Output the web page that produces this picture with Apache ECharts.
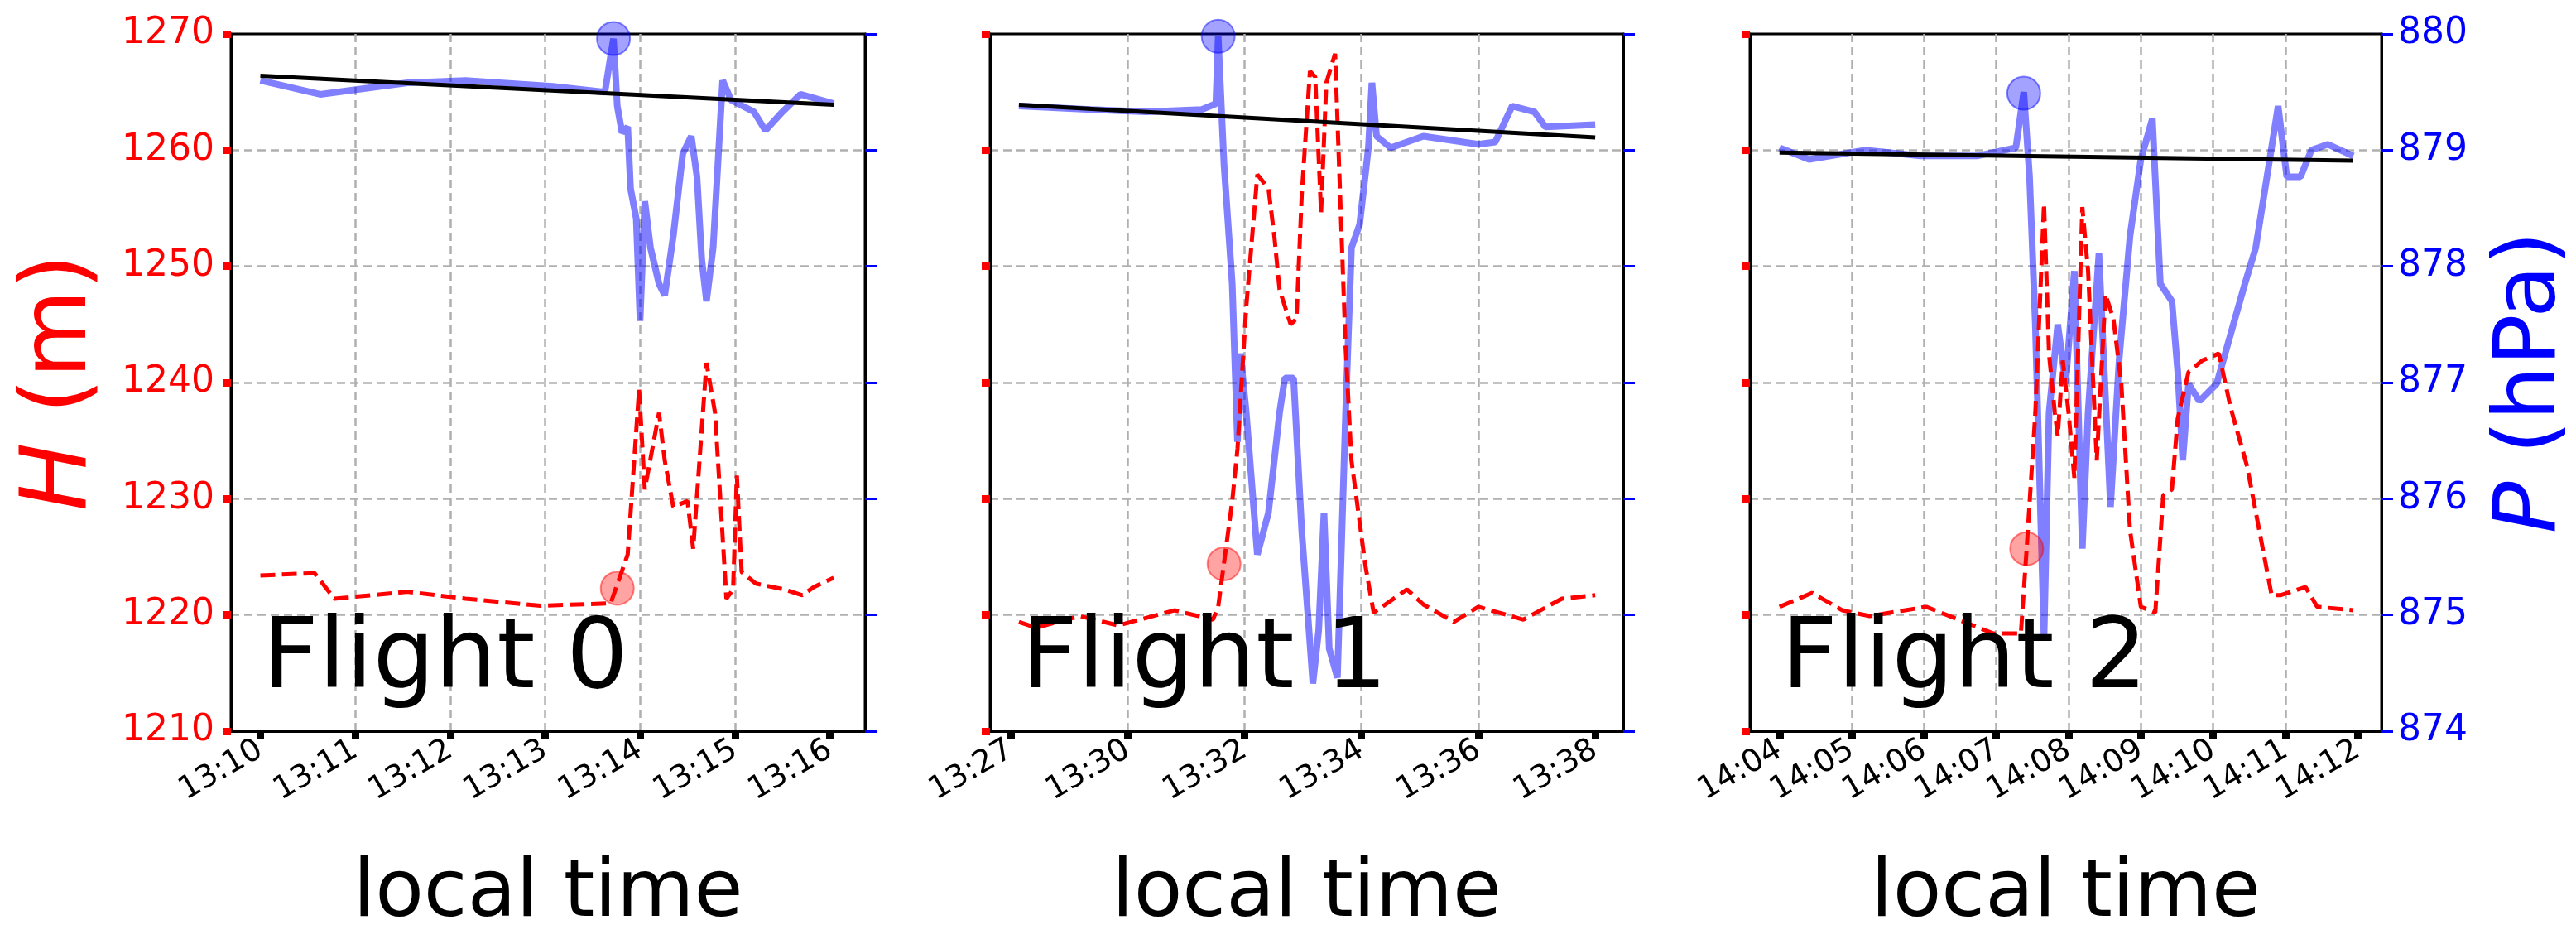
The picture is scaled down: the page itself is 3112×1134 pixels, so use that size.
<!DOCTYPE html>
<html><head><meta charset="utf-8">
<script src="https://cdn.jsdelivr.net/npm/echarts@6/dist/echarts.min.js"></script>
<style>html,body{margin:0;padding:0;background:#fff}#c{width:3112px;height:1134px}</style>
</head><body><div id="c"></div>
<script>
// Flight 0 (minutes after 13:00)
const f0HT=[10.0,10.57,10.78,11.55,12.16,12.95,13.69,13.75,13.87,13.99,14.05,14.20,14.26,14.35,14.50,14.56,14.70,14.79,14.91,14.98,15.02,15.07,15.22,15.52,15.71,15.83,16.04];
const f0HV=[1223.4,1223.6,1221.4,1222.0,1221.4,1220.8,1221.0,1222.4,1225.2,1239.4,1230.8,1237.4,1233.3,1229.3,1229.8,1225.7,1241.7,1237.4,1221.4,1222.2,1232.0,1223.7,1222.7,1222.2,1221.7,1222.4,1223.2];
const f0PT=[10.0,10.63,11.55,12.16,13.08,13.63,13.69,13.72,13.76,13.81,13.87,13.90,13.96,14.0,14.05,14.11,14.20,14.26,14.35,14.45,14.54,14.60,14.65,14.70,14.77,14.87,14.96,15.20,15.32,15.50,15.69,16.04];
const f0PV=[879.60,879.48,879.58,879.60,879.55,879.50,879.81,879.96,879.38,879.15,879.20,878.67,878.41,877.53,878.56,878.16,877.85,877.75,878.26,878.97,879.12,878.77,878.06,877.70,878.16,879.60,879.43,879.33,879.17,879.33,879.48,879.40];
const f0Trend=[[10.0,879.64],[16.04,879.39]];
const f0HMark=[13.76,1222.3];
const f0PMark=[13.72,879.96];
// Flight 1 (minutes after 13:00)
const f1HT=[28.14,28.43,29.18,29.84,30.80,31.46,31.55,31.65,31.79,31.88,32.03,32.22,32.41,32.51,32.60,32.79,32.89,32.98,33.12,33.21,33.31,33.40,33.55,33.64,33.73,33.83,34.07,34.21,34.78,35.06,35.58,36.0,36.77,37.43,38.0];
const f1HV=[1219.4,1218.9,1219.9,1219.1,1220.4,1219.6,1220.7,1224.5,1229.8,1234.3,1246.5,1257.9,1256.7,1252.6,1248.0,1245.0,1245.5,1256.2,1266.8,1266.3,1254.6,1265.8,1268.3,1255.6,1243.0,1233.3,1224.2,1220.2,1222.2,1220.9,1219.4,1220.7,1219.6,1221.4,1221.7];
const f1PT=[28.14,29.37,30.32,31.27,31.51,31.55,31.65,31.79,31.88,31.93,32.03,32.22,32.41,32.60,32.69,32.84,32.98,33.17,33.27,33.36,33.45,33.59,33.73,33.83,33.97,34.12,34.18,34.26,34.50,35.06,36.0,36.29,36.58,36.96,37.15,38.0];
const f1PV=[879.38,879.35,879.33,879.35,879.40,879.98,878.87,877.85,876.49,877.25,876.74,875.52,875.88,876.74,877.04,877.04,875.72,874.41,874.87,875.88,874.71,874.46,876.74,878.16,878.36,879.02,879.58,879.12,879.02,879.12,879.05,879.07,879.38,879.33,879.20,879.22];
const f1Trend=[[28.14,879.39],[38.0,879.11]];
const f1HMark=[31.65,1224.4];
const f1PMark=[31.55,879.98];
// Flight 2 (minutes after 14:00)
const f2HT=[4.0,4.45,4.87,5.25,6.03,6.96,7.34,7.42,7.54,7.66,7.73,7.81,7.85,7.92,8.0,8.08,8.19,8.27,8.39,8.51,8.62,8.73,8.85,9.0,9.20,9.31,9.43,9.51,9.66,9.85,10.08,10.24,10.47,10.81,10.93,11.28,11.44,11.94];
const f2HV=[1220.7,1221.9,1220.4,1219.9,1220.7,1218.4,1218.4,1225.7,1237.4,1255.4,1242.4,1237.4,1235.4,1241.9,1237.4,1231.8,1255.1,1249.6,1233.3,1247.6,1245.5,1239.9,1227.3,1220.7,1220.2,1230.3,1230.8,1236.9,1240.9,1241.9,1242.5,1237.9,1232.8,1221.7,1221.7,1222.4,1220.7,1220.4];
const f2PT=[4.0,4.41,5.18,5.95,6.73,7.27,7.38,7.46,7.54,7.66,7.73,7.85,7.96,8.08,8.19,8.27,8.42,8.58,8.70,8.85,9.0,9.16,9.27,9.43,9.51,9.58,9.66,9.81,10.05,10.28,10.44,10.59,10.90,11.02,11.21,11.36,11.59,11.94];
const f2PV=[879.02,878.92,879.0,878.95,878.95,879.02,879.50,878.77,877.5,874.81,876.74,877.5,876.99,877.96,875.57,876.74,878.11,875.93,877.2,878.26,878.92,879.27,877.85,877.70,877.10,876.33,876.99,876.84,876.99,877.5,877.85,878.16,879.38,878.77,878.77,879.0,879.05,878.95];
const f2Trend=[[4.0,878.98],[11.94,878.91]];
const f2HMark=[7.42,1225.7];
const f2PMark=[7.38,879.49];

const xTicks=[[10,11,12,13,14,15,16],[28,30,32,34,36,38],[4,5,6,7,8,9,10,11,12]];
const xTickLabels=[["13:10","13:11","13:12","13:13","13:14","13:15","13:16"],["13:27","13:30","13:32","13:34","13:36","13:38"],["14:04","14:05","14:06","14:07","14:08","14:09","14:10","14:11","14:12"]];
const panelLabels=["Flight 0","Flight 1","Flight 2"];
const xRanges=[[9.69,16.37],[27.646,38.48],[3.59,12.33]];
const hRange=[1210,1270], pRange=[874,880];

const flights=[
 {HT:f0HT,HV:f0HV,PT:f0PT,PV:f0PV,trend:f0Trend,hm:f0HMark,pm:f0PMark},
 {HT:f1HT,HV:f1HV,PT:f1PT,PV:f1PV,trend:f1Trend,hm:f1HMark,pm:f1PMark},
 {HT:f2HT,HV:f2HV,PT:f2PT,PV:f2PV,trend:f2Trend,hm:f2HMark,pm:f2PMark}];
const gridPx=[[279,1045],[1196,1961],[2114,2880]];
const FONT='DejaVu Sans';
const zip=(a,b)=>a.map((t,i)=>[t,b[i]]);
const split={show:true,showMinLine:false,showMaxLine:false,lineStyle:{color:'#b0b0b0',type:[10,6],width:2.5}};

const grid=[],xAxis=[],yAxis=[],series=[],graphic=[];
flights.forEach((f,i)=>{
  grid.push({left:gridPx[i][0],width:gridPx[i][1]-gridPx[i][0],top:41,height:856,show:true,borderColor:'#000',borderWidth:3,backgroundColor:'transparent'});
  const lbl=xTickLabels[i];
  xAxis.push({type:'value',gridIndex:i,min:xRanges[i][0],max:xRanges[i][1],
    axisLine:{show:true,lineStyle:{color:'#000',width:3}},
    axisTick:{show:true,customValues:xTicks[i],length:10,lineStyle:{color:'#000',width:9}},
    axisLabel:{customValues:xTicks[i],rotate:30,fontSize:38,fontFamily:FONT,color:'#000',margin:20,
      formatter:v=>{const k=xTicks[i].indexOf(Math.round(v));return k>=0?lbl[k]:'';}},
    splitLine:split,
    name:'local time',nameLocation:'middle',nameGap:150,nameTextStyle:{fontSize:96,fontFamily:FONT,color:'#000'}});
  yAxis.push({type:'value',gridIndex:i,position:'left',min:hRange[0],max:hRange[1],interval:10,
    axisLine:{show:true,lineStyle:{color:'#000',width:3}},
    axisTick:{show:true,length:10,lineStyle:{color:'#ff0000',width:9}},
    axisLabel:{show:i===0,fontSize:44,fontFamily:FONT,color:'#ff0000',margin:20,formatter:v=>String(v)},
    splitLine:split,
    name:i===0?'{i|H} (m)':'',nameLocation:'middle',nameGap:150,nameRotate:90,
    nameTextStyle:{fontSize:110,fontFamily:FONT,color:'#ff0000',rich:{i:{fontStyle:'italic',fontSize:110,fontFamily:FONT,color:'#ff0000'}}}});
  yAxis.push({type:'value',gridIndex:i,position:'right',min:pRange[0],max:pRange[1],interval:1,
    axisLine:{show:true,lineStyle:{color:'#000',width:3}},
    axisTick:{show:true,length:14,lineStyle:{color:'#0000ff',width:3}},
    axisLabel:{show:i===2,fontSize:44,fontFamily:FONT,color:'#0000ff',margin:20,formatter:v=>String(v)},
    splitLine:{show:false},
    name:i===2?'{i|P} (hPa)':'',nameLocation:'middle',nameGap:130,nameRotate:90,
    nameTextStyle:{fontSize:104,fontFamily:FONT,color:'#0000ff',rich:{i:{fontStyle:'italic',fontSize:104,fontFamily:FONT,color:'#0000ff'}}}});
  const yl=2*i, yr=2*i+1;
  series.push({type:'line',xAxisIndex:i,yAxisIndex:yr,data:zip(f.PT,f.PV),symbol:'none',z:2,
    lineStyle:{color:'rgba(0,0,255,0.5)',width:8}});
  series.push({type:'line',xAxisIndex:i,yAxisIndex:yl,data:zip(f.HT,f.HV),symbol:'none',z:3,
    lineStyle:{color:'#ff0000',width:5,type:[18,8]}});
  series.push({type:'line',xAxisIndex:i,yAxisIndex:yr,data:f.trend,symbol:'none',z:4,
    lineStyle:{color:'#000',width:5}});
  series.push({type:'scatter',xAxisIndex:i,yAxisIndex:yl,data:[f.hm],symbolSize:40,z:5,clip:true,
    itemStyle:{color:'rgba(255,0,0,0.45)',borderColor:'rgba(255,0,0,0.6)',borderWidth:2}});
  series.push({type:'scatter',xAxisIndex:i,yAxisIndex:yr,data:[f.pm],symbolSize:40,z:5,clip:true,
    itemStyle:{color:'rgba(0,0,255,0.45)',borderColor:'rgba(0,0,255,0.6)',borderWidth:2}});
  graphic.push({type:'text',left:gridPx[i][0]+38,top:740,z:10,
    style:{text:panelLabels[i],fontSize:118,fontFamily:FONT,fill:'#000'}});
});
const chart=echarts.init(document.getElementById('c'),null,{renderer:'canvas'});
chart.setOption({animation:false,backgroundColor:'#fff',grid,xAxis,yAxis,series,graphic});
</script></body></html>
